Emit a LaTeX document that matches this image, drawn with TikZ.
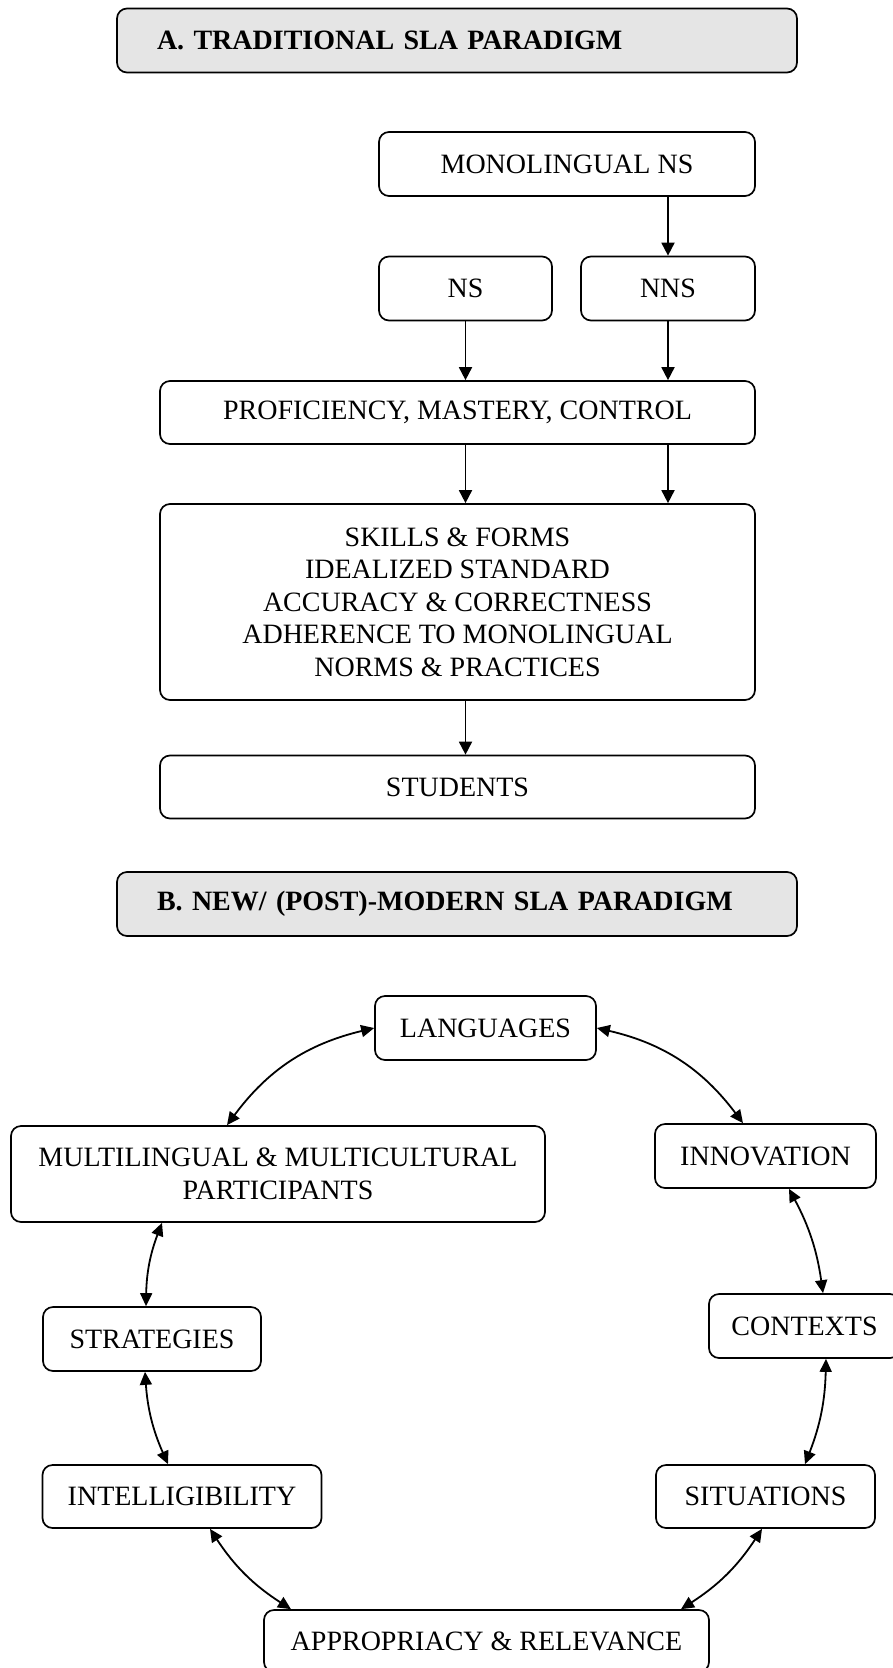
\documentclass[tikz,border=0pt]{standalone}
\usepackage{fontspec}
\setmainfont{Liberation Serif}
\usetikzlibrary{arrows.meta}
\begin{document}
\begin{tikzpicture}[x=1pt,y=1pt,
 bx/.style={draw, line width=1.7pt, rounded corners=10pt, align=center, inner sep=0pt, font=\fontsize{28}{32.5}\selectfont},
 hdr/.style={bx, fill=gray!20, font=\bfseries\fontsize{28}{32.5}\selectfont, minimum width=680pt, text width=600pt, align=left, inner xsep=40pt, minimum height=64pt},
 arr/.style={line width=1.8pt, -{Triangle[length=13pt,width=13pt]}},
 dar/.style={line width=1.8pt, {Triangle[length=13pt,width=12pt]}-{Triangle[length=13pt,width=12pt]}}]
\useasboundingbox (0,0) rectangle (893,-1668);
\clip (0,0) rectangle (893,-1668);
% Part A
\node[hdr] (ha) at (457,-40.5) {A. TRADITIONAL SLA PARADIGM};
\node[bx, minimum width=376pt, minimum height=64pt] (mono) at (567,-164) {MONOLINGUAL NS};
\node[bx, minimum width=173pt, minimum height=64pt] (ns) at (465.5,-288.5) {NS};
\node[bx, minimum width=174pt, minimum height=64pt] (nns) at (668,-288.5) {NNS};
\node[bx, minimum width=595pt, minimum height=63pt] (prof) at (457.5,-412.5) {PROFICIENCY, MASTERY, CONTROL};
\node[bx, minimum width=595pt, minimum height=196pt] (skills) at (457.5,-602) {SKILLS \& FORMS\\IDEALIZED STANDARD\\ACCURACY \& CORRECTNESS\\ADHERENCE TO MONOLINGUAL\\NORMS \& PRACTICES};
\node[bx, minimum width=595pt, minimum height=63pt] (stud) at (457.5,-787) {STUDENTS};
\draw[arr] (mono.south -| nns.north) -- (nns.north);
\draw[arr] (ns.south) -- (ns.south |- prof.north);
\draw[arr] (nns.south) -- (nns.south |- prof.north);
\draw[arr] (ns.south |- prof.south) -- (ns.south |- skills.north);
\draw[arr] (nns.south |- prof.south) -- (nns.south |- skills.north);
\draw[arr] (ns.south |- skills.south) -- (ns.south |- stud.north);
% Part B
\node[hdr] (hb) at (457,-904) {B. NEW/ (POST)-MODERN SLA PARADIGM};
\node[bx, minimum width=221pt, minimum height=64pt] (lang) at (485.5,-1028) {LANGUAGES};
\node[bx, minimum width=534pt, minimum height=96pt] (multi) at (278,-1174) {MULTILINGUAL \& MULTICULTURAL\\PARTICIPANTS};
\node[bx, minimum width=221pt, minimum height=64pt] (innov) at (765.5,-1156) {INNOVATION};
\node[bx, minimum width=218pt, minimum height=64pt] (strat) at (152,-1339) {STRATEGIES};
\node[bx, minimum width=191pt, minimum height=64pt] (ctx) at (804.5,-1326) {CONTEXTS};
\node[bx, minimum width=279pt, minimum height=63pt] (intel) at (182,-1496.5) {INTELLIGIBILITY};
\node[bx, minimum width=219pt, minimum height=63pt] (sit) at (765.5,-1496.5) {SITUATIONS};
\node[bx, minimum width=445pt, minimum height=62pt] (app) at (486.5,-1641) {APPROPRIACY \& RELEVANCE};
\draw[dar] (lang.west) to[bend right=20] ([xshift=-51pt]multi.north);
\draw[dar] (lang.east) to[bend left=20] ([xshift=-22.5pt]innov.north);
\draw[dar] ([xshift=-116pt]multi.south) to[bend right=10] ([xshift=-6pt]strat.north);
\draw[dar] ([xshift=23.5pt]innov.south) to[bend left=10] ([xshift=18.5pt]ctx.north);
\draw[dar] ([xshift=-7pt]strat.south) to[bend right=10] ([xshift=-14pt]intel.north);
\draw[dar] ([xshift=21.5pt]ctx.south) to[bend left=10] ([xshift=39.5pt]sit.north);
\draw[dar] ([xshift=28pt]intel.south) to[bend right=12] ([xshift=-195.5pt]app.north);
\draw[dar] ([xshift=-3.5pt]sit.south) to[bend left=12] ([xshift=194.5pt]app.north);
\end{tikzpicture}
\end{document}
